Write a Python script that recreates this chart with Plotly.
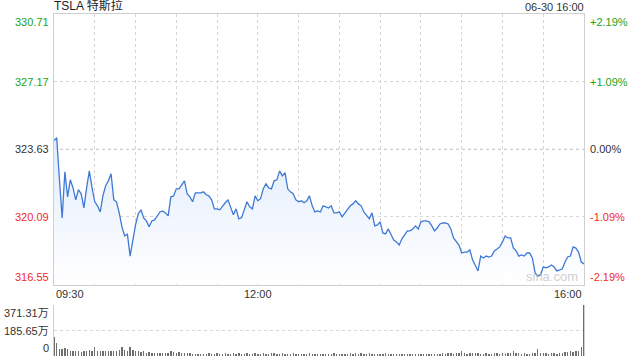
import plotly.graph_objects as go

# ---------------- data ----------------
title_text = "TSLA 特斯拉"
stamp_text = "06-30 16:00"
prev_close = 323.63

# minutes after 09:30, sampled every 2 minutes
minutes = list(range(0, 391, 2))

prices = [
    324.08, 324.23, 322.03, 320.04, 322.45, 321.14, 322.03, 321.61, 320.98, 321.51,
    321.30, 320.56, 321.61, 322.50, 321.61, 320.88, 320.67, 320.35, 321.19, 321.72,
    321.98, 322.35, 320.98, 320.88, 320.30, 319.57, 319.09, 319.20, 318.04, 318.88,
    319.67, 320.25, 320.46, 320.04, 319.88, 319.57, 319.88, 319.93, 320.14, 320.35,
    320.40, 320.30, 320.14, 321.14, 321.19, 321.56, 321.56, 321.77, 321.98, 321.30,
    321.14, 320.88, 321.35, 321.35, 321.35, 321.40, 321.25, 321.19, 320.98, 320.51,
    320.51, 320.46, 320.67, 320.83, 320.98, 320.62, 320.20, 320.51, 319.99, 320.04,
    320.46, 320.88, 320.62, 320.51, 321.19, 320.93, 321.04, 321.56, 321.82, 321.61,
    321.56, 321.98, 322.03, 322.50, 322.24, 322.40, 321.56, 321.40, 321.30, 320.98,
    320.88, 320.93, 320.83, 320.93, 321.19, 320.67, 320.35, 320.40, 320.35, 320.67,
    320.62, 320.56, 320.67, 320.30, 320.30, 320.35, 320.09, 320.30, 320.46, 320.67,
    320.77, 320.93, 320.77, 320.67, 320.35, 320.14, 319.99, 320.30, 319.62, 319.67,
    319.83, 319.25, 319.20, 319.46, 319.15, 318.88, 318.78, 318.62, 318.94, 319.15,
    319.36, 319.36, 319.46, 319.62, 319.46, 319.83, 319.88, 319.88, 319.83, 319.62,
    319.36, 319.51, 319.72, 319.77, 319.77, 319.72, 319.46, 318.99, 318.83, 318.62,
    318.20, 318.25, 318.25, 318.36, 317.84, 317.57, 317.26, 318.04, 317.94, 318.04,
    317.99, 318.04, 318.31, 318.41, 318.52, 318.78, 319.09, 318.99, 318.99, 318.46,
    318.31, 318.04, 318.10, 318.04, 318.20, 318.20, 317.94, 317.16, 316.99, 317.05,
    317.47, 317.42, 317.47, 317.57, 317.47, 317.26, 317.31, 317.36, 317.73, 317.99,
    318.04, 318.52, 318.46, 318.25, 317.73, 317.63,
]

# volume in 万 shares
volumes = [
    141, 92, 54, 50, 59, 54, 37, 35, 33, 35,
    30, 37, 33, 42, 40, 62, 35, 37, 33, 37,
    35, 40, 33, 37, 42, 62, 45, 37, 62, 42,
    37, 40, 30, 33, 25, 28, 22, 25, 20, 22,
    25, 20, 22, 37, 30, 25, 28, 22, 25, 20,
    22, 17, 15, 17, 12, 15, 17, 20, 15, 17,
    20, 15, 17, 22, 15, 17, 20, 15, 22, 17,
    15, 20, 17, 15, 22, 17, 15, 20, 17, 15,
    20, 22, 17, 15, 20, 15, 17, 15, 20, 17,
    15, 12, 17, 15, 20, 17, 15, 12, 17, 15,
    12, 17, 15, 20, 17, 15, 12, 17, 15, 20,
    17, 22, 15, 20, 17, 15, 20, 17, 15, 12,
    17, 15, 20, 17, 15, 12, 15, 17, 15, 12,
    15, 17, 15, 12, 15, 12, 15, 17, 15, 12,
    15, 17, 15, 20, 17, 22, 25, 17, 20, 25,
    37, 22, 17, 20, 25, 22, 20, 17, 15, 20,
    17, 15, 20, 22, 17, 20, 15, 22, 25, 37,
    22, 20, 17, 20, 17, 15, 20, 22, 50, 25,
    20, 22, 17, 20, 22, 17, 25, 22, 30, 28,
    33, 30, 37, 33, 67, 371.31,
]

price_ticks = [330.71, 327.17, 323.63, 320.09, 316.55]
pct_labels = ["+2.19%", "+1.09%", "0.00%", "-1.09%", "-2.19%"]
vol_ticks = [371.31, 185.655, 0]
vol_labels = ["371.31万", "185.65万", "0"]
time_ticks = [0, 150, 390]
time_labels = ["09:30", "12:00", "16:00"]
grid_minutes = list(range(30, 390, 30))

# ---------------- style ----------------
GREEN = "#1ba31b"
RED = "#f02b2b"
DARK = "#333333"
BORDER = "#cfcfcf"
GRID = "#d6d6d6"
LINE = "#3f79d4"
FONT = "Liberation Sans, Arial, Noto Sans CJK SC, sans-serif"

def label_color(v):
    if v > prev_close + 1e-9:
        return GREEN
    if v < prev_close - 1e-9:
        return RED
    return DARK

MAIN_BOTTOM = 0.209
VOL_TOP = 0.149

fig = go.Figure()

# baseline for fill
fig.add_trace(go.Scatter(
    x=minutes, y=[price_ticks[-1]] * len(minutes), mode="lines",
    line=dict(width=0, color="rgba(0,0,0,0)"), hoverinfo="skip", showlegend=False,
    xaxis="x", yaxis="y"))

fig.add_trace(go.Scatter(
    x=minutes, y=prices, mode="lines",
    line=dict(color=LINE, width=1.3),
    fill="tonexty",
    fillgradient=dict(type="vertical",
                      colorscale=[[0, "rgba(255,255,255,1)"], [1, "rgba(225,236,252,1)"]]),
    hoverinfo="skip", showlegend=False, xaxis="x", yaxis="y"))

fig.add_trace(go.Bar(
    x=minutes, y=volumes, marker=dict(color="#6e6e6e", line=dict(width=0)),
    width=1.0, hoverinfo="skip", showlegend=False, xaxis="x2", yaxis="y2"))

annotations = []
# left price labels and right percent labels
for i, (v, p) in enumerate(zip(price_ticks, pct_labels)):
    if i == 0:
        ya = "top"
    elif i == len(price_ticks) - 1:
        ya = "bottom"
    else:
        ya = "middle"
    c = label_color(v)
    annotations.append(dict(x=0, xref="paper", y=v, yref="y", xanchor="right", yanchor=ya,
                            xshift=-3, text=f"{v:.2f}", showarrow=False,
                            font=dict(size=11, color=c, family=FONT)))
    annotations.append(dict(x=1, xref="paper", y=v, yref="y", xanchor="left", yanchor=ya,
                            xshift=4, text=p, showarrow=False,
                            font=dict(size=11, color=c, family=FONT)))

# volume labels
for i, (v, t) in enumerate(zip(vol_ticks, vol_labels)):
    ya = "top" if i == 0 else ("bottom" if i == len(vol_ticks) - 1 else "middle")
    annotations.append(dict(x=0, xref="paper", y=v, yref="y2", xanchor="right", yanchor=ya,
                            xshift=-3, text=t, showarrow=False,
                            font=dict(size=11, color=DARK, family=FONT)))

# time labels
for i, (m, t) in enumerate(zip(time_ticks, time_labels)):
    xa = "left" if i == 0 else ("right" if i == len(time_ticks) - 1 else "center")
    annotations.append(dict(x=m, xref="x", y=MAIN_BOTTOM, yref="paper", xanchor=xa,
                            yanchor="top", yshift=-1, text=t, showarrow=False,
                            font=dict(size=11, color=DARK, family=FONT)))

# title and timestamp
annotations.append(dict(x=0, xref="paper", y=1, yref="paper", xanchor="left", yanchor="bottom",
                        xshift=-2, yshift=-1, text=title_text, showarrow=False,
                        font=dict(size=12, color="#222222", family=FONT)))
annotations.append(dict(x=1, xref="paper", y=1, yref="paper", xanchor="right", yanchor="bottom",
                        xshift=2, yshift=-1, text=stamp_text, showarrow=False,
                        font=dict(size=11, color=DARK, family=FONT)))
# watermark
annotations.append(dict(x=0.94, xref="paper", y=price_ticks[-1], yref="y", xanchor="center",
                        yanchor="bottom", yshift=-1, text="sina.com", showarrow=False,
                        font=dict(size=13, color="rgba(190,190,190,0.75)", family=FONT)))

shapes = [dict(type="line", xref="paper", x0=0, x1=1, yref="y", y0=prev_close, y1=prev_close,
               line=dict(color="#bdbdbd", width=1, dash="dot"), layer="below")]

fig.update_layout(
    width=640, height=360,
    margin=dict(l=54, r=56, t=14, b=4),
    paper_bgcolor="white", plot_bgcolor="white",
    showlegend=False, bargap=0,
    font=dict(family=FONT, size=11, color=DARK),
    annotations=annotations, shapes=shapes,
    xaxis=dict(domain=[0, 1], range=[0, 390], tickvals=grid_minutes, showticklabels=False,
               showgrid=True, gridcolor=GRID, griddash="dot", gridwidth=1,
               showline=True, mirror=True, linecolor=BORDER, linewidth=1,
               zeroline=False, ticks="", fixedrange=True),
    yaxis=dict(domain=[MAIN_BOTTOM, 1], range=[price_ticks[-1], price_ticks[0]],
               tickvals=[price_ticks[1], price_ticks[3]], showticklabels=False,
               showgrid=True, gridcolor=GRID, griddash="dot", gridwidth=1,
               showline=True, mirror=True, linecolor=BORDER, linewidth=1,
               zeroline=False, ticks="", fixedrange=True),
    xaxis2=dict(domain=[0, 1], range=[0, 390], anchor="y2", showticklabels=False,
                showgrid=False, showline=False, zeroline=False, ticks="", fixedrange=True),
    yaxis2=dict(domain=[0, VOL_TOP], range=[0, vol_ticks[0]], anchor="x2",
                tickvals=[vol_ticks[0], vol_ticks[1]], showticklabels=False,
                showgrid=True, gridcolor=GRID, griddash="dot", gridwidth=1,
                showline=True, mirror=True, linecolor=BORDER, linewidth=1,
                zeroline=False, ticks="", fixedrange=True),
)

fig.write_html("out.html", config={"displayModeBar": False, "staticPlot": True})
